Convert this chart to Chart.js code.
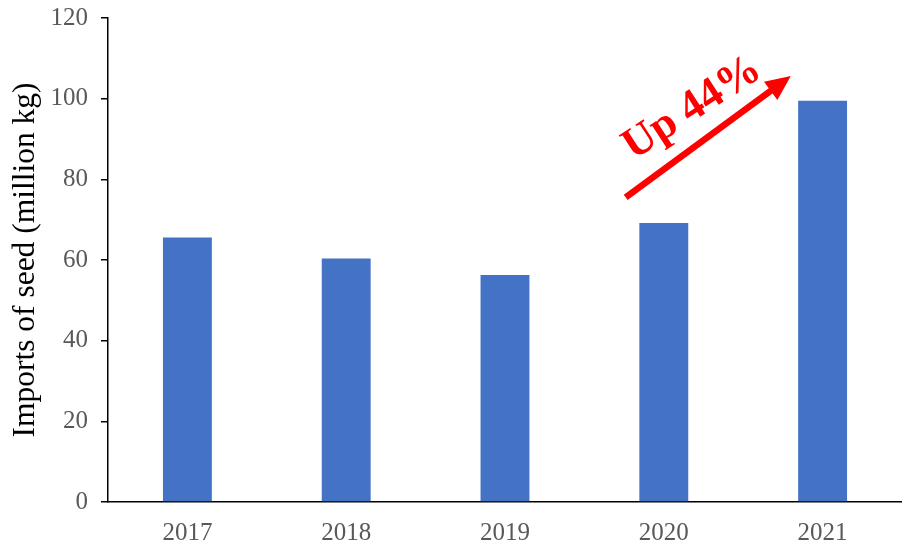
<!DOCTYPE html>
<html>
<head>
<meta charset="utf-8">
<script src="https://cdn.jsdelivr.net/npm/chart.js@4"></script>
<style>
  html, body { margin: 0; padding: 0; background: #fff; }
  #wrap { width: 902px; height: 549px; }
</style>
</head>
<body>
<div id="wrap"><canvas id="seedChart"></canvas></div>
<script>
const years = ['2017', '2018', '2019', '2020', '2021'];
const imports = [65.6, 60.4, 56.3, 69.2, 99.5];
const yTicks = [0, 20, 40, 60, 80, 100, 120];

// arrow ends and label centre given as [category index, value]
const arrowFrom = [2.76, 75.5];
const arrowTo = [3.8, 105.6];
const labelAt = [3.18, 97.6];
const arrowLabel = 'Up 44%';

const serif = '"Liberation Serif", "Times New Roman", serif';

const upArrow = {
  id: 'upArrow',
  afterDatasetsDraw(chart) {
    const { ctx, scales: { x, y } } = chart;
    const x0 = x.getPixelForValue(arrowFrom[0]), y0 = y.getPixelForValue(arrowFrom[1]);
    const x1 = x.getPixelForValue(arrowTo[0]), y1 = y.getPixelForValue(arrowTo[1]);
    const ang = Math.atan2(y1 - y0, x1 - x0);
    const head = 25;

    ctx.save();
    ctx.strokeStyle = '#ff0000';
    ctx.fillStyle = '#ff0000';
    ctx.lineWidth = 6.5;
    ctx.beginPath();
    ctx.moveTo(x0, y0);
    ctx.lineTo(x1 - Math.cos(ang) * head * 0.8, y1 - Math.sin(ang) * head * 0.8);
    ctx.stroke();

    ctx.translate(x1, y1);
    ctx.rotate(ang);
    ctx.beginPath();
    ctx.moveTo(0, 0);
    ctx.lineTo(-head, -head * 0.45);
    ctx.lineTo(-head, head * 0.45);
    ctx.closePath();
    ctx.fill();
    ctx.restore();

    // label is a touch flatter than the arrow
    ctx.save();
    ctx.translate(x.getPixelForValue(labelAt[0]), y.getPixelForValue(labelAt[1]));
    ctx.rotate(-33 * Math.PI / 180);
    ctx.fillStyle = '#ff0000';
    ctx.font = 'bold 44px ' + serif;
    ctx.textAlign = 'center';
    ctx.textBaseline = 'middle';
    ctx.fillText(arrowLabel, 0, 0);
    ctx.restore();
  }
};

new Chart(document.getElementById('seedChart'), {
  type: 'bar',
  data: {
    labels: years,
    datasets: [{
      data: imports,
      backgroundColor: '#4472c4',
      borderWidth: 0,
      barPercentage: 0.308,
      categoryPercentage: 1
    }]
  },
  options: {
    responsive: true,
    maintainAspectRatio: false,
    animation: false,
    layout: { padding: { top: 18, right: 0, left: 0, bottom: 0 } },
    plugins: {
      legend: { display: false },
      tooltip: { enabled: false }
    },
    scales: {
      x: {
        grid: { display: false, drawTicks: false },
        border: { display: true, color: '#000', width: 1.5 },
        ticks: { color: '#595959', font: { family: serif, size: 25 }, padding: 16 },
        afterFit(scale) {
          scale.height = 47;
          scale.paddingLeft = 0;
          scale.paddingRight = 0;
        }
      },
      y: {
        min: 0,
        max: 120,
        afterBuildTicks(scale) { scale.ticks = yTicks.map(v => ({ value: v })); },
        grid: { drawOnChartArea: false, drawTicks: true, tickLength: 7, color: '#000', lineWidth: 1.5 },
        border: { display: true, color: '#000', width: 1.5 },
        ticks: { color: '#595959', font: { family: serif, size: 25 }, padding: 13 },
        title: {
          display: true,
          text: 'Imports of seed (million kg)',
          color: '#000',
          font: { family: serif, size: 31.5 },
          padding: { top: 7, bottom: 0 }
        },
        afterFit(scale) {
          scale.width = 108;
          scale.paddingTop = 0;
          scale.paddingBottom = 0;
        }
      }
    }
  },
  plugins: [upArrow]
});
</script>
</body>
</html>
